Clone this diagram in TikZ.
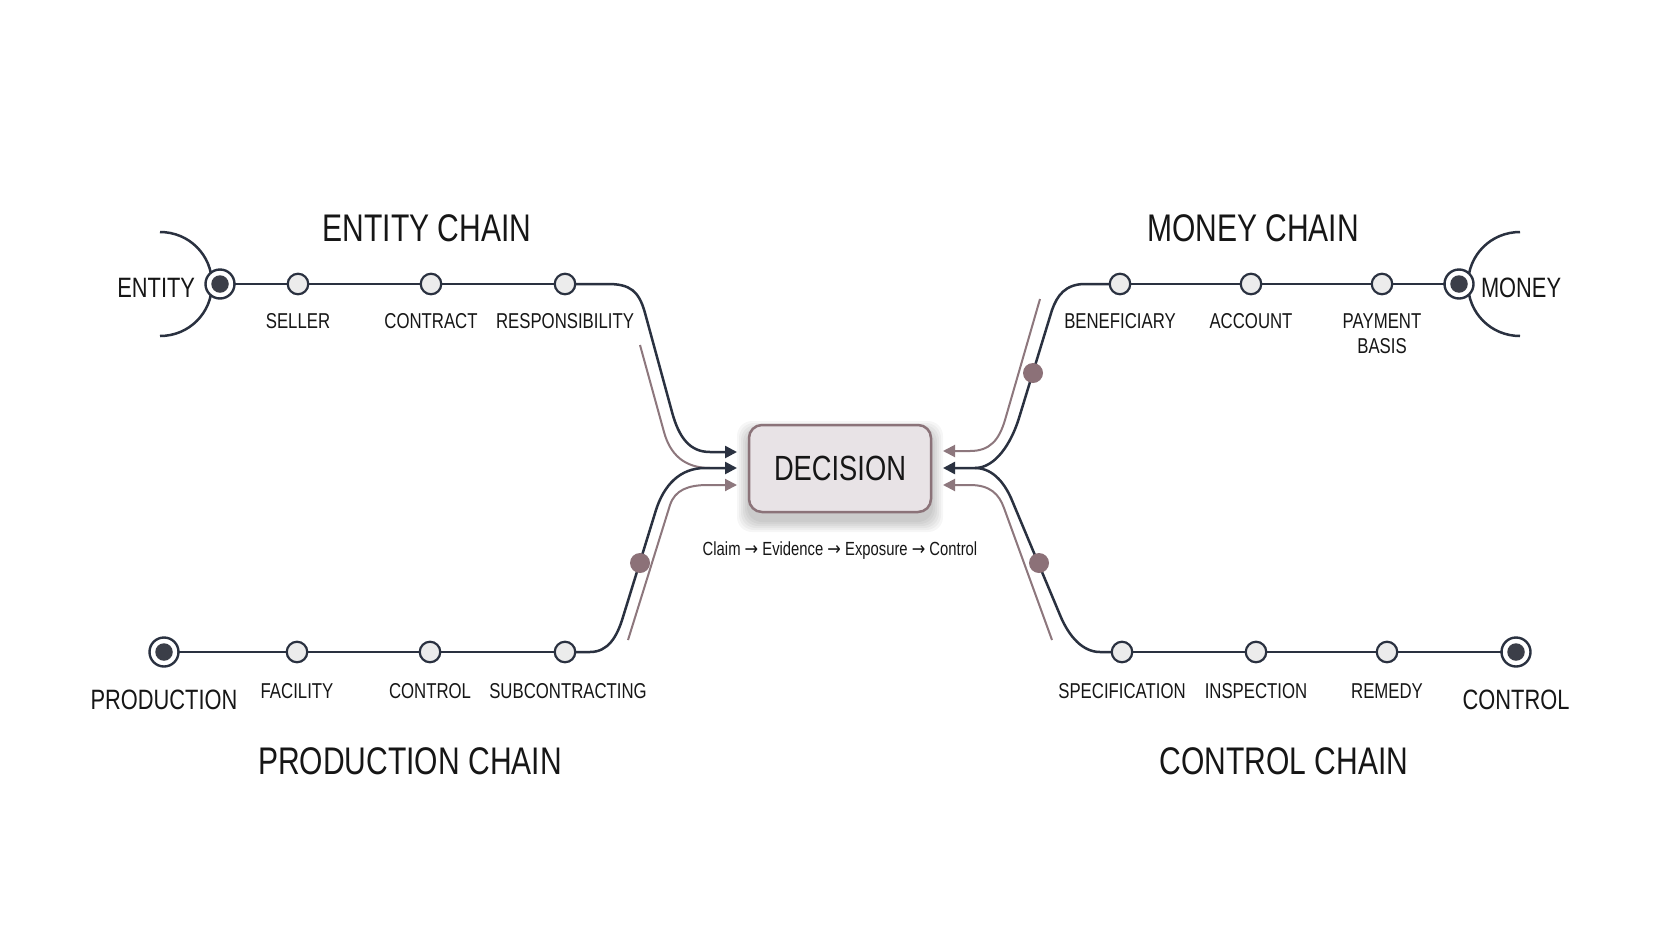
\documentclass[tikz,border=0pt]{standalone}
\usepackage{fontspec}
\setmainfont{Liberation Sans}[FakeStretch=0.78]
\newfontfamily\arrowfont{DejaVu Sans}[FakeStretch=0.85]
\usetikzlibrary{arrows.meta,backgrounds,calc}
\definecolor{ink}{HTML}{2A3140}
\definecolor{nodefill}{HTML}{ECECEC}
\definecolor{termfill}{HTML}{3B3E48}
\definecolor{mauve}{HTML}{8D777D}
\definecolor{mdotc}{HTML}{8C7178}
\definecolor{decfill}{HTML}{E8E3E6}
\definecolor{decborder}{HTML}{8B7379}
\definecolor{txt}{HTML}{161616}
\newcommand\setfs[1]{\fontsize{#1}{#1}\selectfont}
\newcommand\arr{{\arrowfont →}}
\begin{document}
\begin{tikzpicture}[x=1pt,y=-1pt,
  every node/.style={inner sep=0pt, outer sep=0pt},
  stopnode/.style={circle, draw=ink, line width=2.2pt, fill=nodefill, minimum size=20.5pt},
  termnode/.style={circle, draw=ink, line width=2.4pt, fill=white, minimum size=29pt},
  termdot/.style={circle, fill=termfill, minimum size=17.5pt},
  mdot/.style={circle, fill=mdotc, minimum size=20pt},
  trk/.style={draw=ink, line width=2.5pt},
  mtrk/.style={draw=mauve, line width=2pt},
  tipd/.style={-{Triangle[length=12pt,width=12pt]}},
  lbl/.style={anchor=base, text=txt, font=\setfs{21.5}},
  biglbl/.style={anchor=base, text=txt, font=\setfs{28}},
  ttl/.style={anchor=base, text=txt, font=\setfs{38.5}},
  decbox/.style={draw=decborder, line width=2.5pt, fill=decfill, rounded corners=13pt,
     minimum width=182pt, minimum height=87pt, text=txt, font=\setfs{35}},
]
\useasboundingbox (0,0) rectangle (1680,937);

% ---------- nodes ----------
% entity chain
\node[termnode] (ent) at (220,284) {};
\node[termdot] (entd) at (ent) {};
\node[stopnode] (sel) at (298,284) {};
\node[stopnode] (con) at (431,284) {};
\node[stopnode] (res) at (565,284) {};
% money chain
\node[stopnode] (ben) at (1120,284) {};
\node[stopnode] (acc) at (1251,284) {};
\node[stopnode] (pay) at (1382,284) {};
\node[termnode] (mon) at (1459,284) {};
\node[termdot] (mond) at (mon) {};
% production chain
\node[termnode] (pro) at (164,652) {};
\node[termdot] (prod) at (pro) {};
\node[stopnode] (fac) at (297,652) {};
\node[stopnode] (ctl) at (430,652) {};
\node[stopnode] (sub) at (565,652) {};
% control chain
\node[stopnode] (spe) at (1122,652) {};
\node[stopnode] (ins) at (1256,652) {};
\node[stopnode] (rem) at (1387,652) {};
\node[termnode] (ctr) at (1516,652) {};
\node[termdot] (ctrd) at (ctr) {};

% decision
\node[decbox] (dec) at (840,468.5) {DECISION};

% mauve dots
\node[mdot] (d1) at (640,563) {};
\node[mdot] (d2) at (1033,373) {};
\node[mdot] (d3) at (1039,563) {};

% arrow end points
\coordinate (L1) at (737,452);
\coordinate (L2) at (737,468);
\coordinate (L3) at (737,485);
\coordinate (R1) at (943,451);
\coordinate (R2) at (943,468);
\coordinate (R3) at (943,485);

% ---------- labels ----------
\node[ttl] (tent) at (427,241) {ENTITY CHAIN};
\node[ttl] (tmon) at (1253,241) {MONEY CHAIN};
\node[ttl] (tpro) at (410,774) {PRODUCTION CHAIN};
\node[ttl] (tctr) at (1284,774) {CONTROL CHAIN};

\node[biglbl, anchor=base east] (lent) at (195,297) {ENTITY};
\node[biglbl, anchor=base west] (lmon) at (1481,297) {MONEY};
\node[biglbl] (lpro) at (164,709) {PRODUCTION};
\node[biglbl] (lctr) at (1516,709) {CONTROL};

\node[lbl] (lsel) at (298,328) {SELLER};
\node[lbl] (lcon) at (431,328) {CONTRACT};
\node[lbl] (lres) at (565,328) {RESPONSIBILITY};
\node[lbl] (lben) at (1120,328) {BENEFICIARY};
\node[lbl] (lacc) at (1251,328) {ACCOUNT};
\node[lbl] (lpay) at (1382,328) {PAYMENT};
\node[lbl] (lpay2) at (1382,353) {BASIS};

\node[lbl] (lfac) at (297,698) {FACILITY};
\node[lbl] (lctl) at (430,698) {CONTROL};
\node[lbl] (lsub) at (568,698) {SUBCONTRACTING};
\node[lbl] (lspe) at (1122,698) {SPECIFICATION};
\node[lbl] (lins) at (1256,698) {INSPECTION};
\node[lbl] (lrem) at (1387,698) {REMEDY};

\node[anchor=base, text=txt, font=\setfs{19}] (cap) at (840,555) {Claim \arr{} Evidence \arr{} Exposure \arr{} Control};

% ---------- background layer ----------
\begin{pgfonlayer}{background}
\fill[white] (0,0) rectangle (1680,937);
% shadow of decision box
\foreach \k in {1,3,5,7,9,11}{
  \fill[black, opacity=0.035, rounded corners=15pt] (748-\k,432-\k) rectangle (932+\k,521+\k);
}
% arcs
\draw[trk] (160,232) .. controls (189,232) and (212,255) .. (212,284)
                     .. controls (212,313) and (189,336) .. (160,336);
\draw[trk] (1520,232) .. controls (1491,232) and (1468,255) .. (1468,284)
                      .. controls (1468,313) and (1491,336) .. (1520,336);
% straight chain tracks
\draw[trk] (ent) -- (sel) -- (con) -- (res);
\draw[trk] (ben) -- (acc) -- (pay) -- (mon);
\draw[trk] (pro) -- (fac) -- (ctl) -- (sub);
\draw[trk] (spe) -- (ins) -- (rem) -- (ctr);

% mauve tracks (left)
\draw[mtrk] (640,345) -- (664,432) .. controls (670,454) and (684,468) .. (710,468);
\draw[mtrk, tipd] (628,640) -- (670,505) .. controls (675,490) and (688,485) .. (708,485) -- (L3);
% dark tracks (left)
\draw[trk, tipd] (res) -- (608,284) .. controls (630,284) and (639,291) .. (645,313)
    -- (672,412) .. controls (679,438) and (690,452) .. (710,452) -- (L1);
\draw[trk, tipd] (sub) -- (590,652) .. controls (608,652) and (617,637) .. (623,617)
    -- (656,510) .. controls (664,485) and (680,468) .. (705,468) -- (L2);

% mauve tracks (right)
\draw[mtrk, tipd] (1040,299) -- (1005,420) .. controls (999,440) and (990,451) .. (970,451) -- (R1);
\draw[mtrk, tipd] (1052,640) -- (1004,508) .. controls (999,494) and (990,485) .. (970,485) -- (R3);
% dark tracks (right)
\draw[trk] (ben) -- (1085,284) .. controls (1065,284) and (1057,296) .. (1052,310)
    -- (1019,418) .. controls (1011,444) and (995,468) .. (975,468);
\draw[trk, tipd] (spe) -- (1100,652) .. controls (1083,652) and (1069,637) .. (1060,615)
    -- (1011,498) .. controls (1006,487) and (995,468) .. (975,468) -- (R2);
\end{pgfonlayer}
\end{tikzpicture}
\end{document}
